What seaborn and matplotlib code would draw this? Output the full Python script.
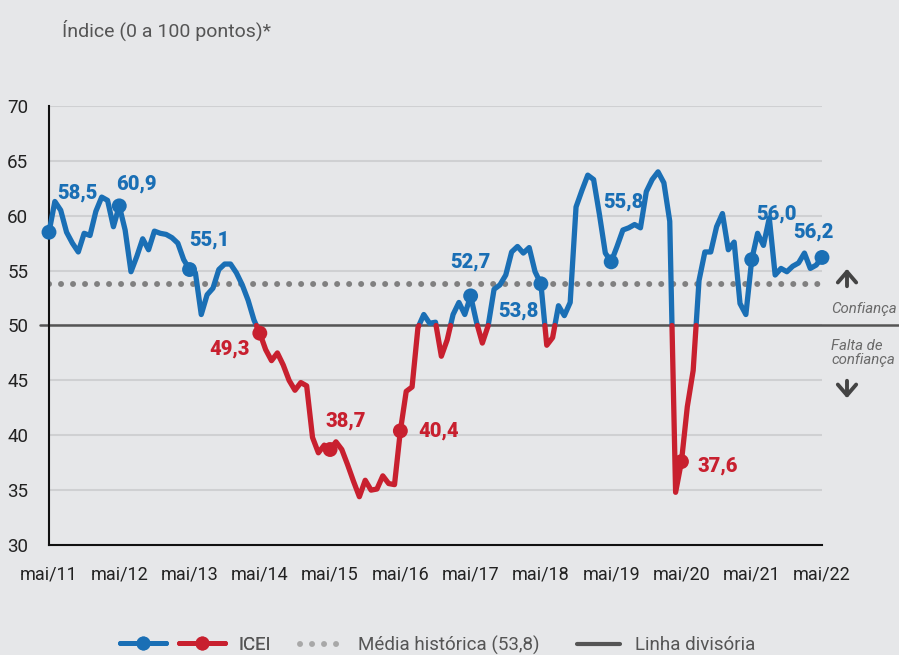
import seaborn as sns
import matplotlib.pyplot as plt
import pandas as pd
from matplotlib.lines import Line2D
from matplotlib.legend_handler import HandlerTuple

# ICEI mensal, mai/11 a mai/22
icei = [58.5, 61.3, 60.5, 58.5, 57.5, 56.7, 58.4, 58.2, 60.4, 61.7, 61.4, 59.0,
        60.9, 58.7, 54.9, 56.3, 57.9, 56.9, 58.6, 58.4, 58.3, 58.0, 57.5, 56.0,
        55.1, 54.8, 51.0, 52.8, 53.4, 55.1, 55.6, 55.6, 54.8, 53.7, 52.3, 50.5,
        49.3, 47.8, 46.8, 47.5, 46.4, 45.0, 44.1, 44.8, 44.5, 39.8, 38.4, 39.1,
        38.7, 39.4, 38.7, 37.3, 35.8, 34.4, 35.9, 35.0, 35.1, 36.3, 35.6, 35.5,
        40.4, 44.0, 44.4, 49.8, 51.0, 50.2, 50.3, 47.2, 48.7, 51.0, 52.1, 51.0,
        52.7, 50.3, 48.4, 50.0, 53.3, 53.7, 54.6, 56.7, 57.2, 56.6, 57.1, 54.9,
        53.8, 48.2, 48.9, 51.8, 50.9, 52.1, 60.8, 62.3, 63.7, 63.3, 60.1, 56.6,
        55.8, 57.2, 58.7, 58.9, 59.2, 58.9, 62.2, 63.3, 64.0, 63.0, 59.5, 34.8,
        37.6, 42.6, 45.9, 54.1, 56.7, 56.7, 59.0, 60.2, 56.9, 57.6, 52.0, 51.0,
        56.0, 58.4, 57.3, 59.8, 54.6, 55.2, 54.9, 55.4, 55.7, 56.6, 55.2, 55.5,
        56.2]
anos = ['mai/11', 'mai/12', 'mai/13', 'mai/14', 'mai/15', 'mai/16',
        'mai/17', 'mai/18', 'mai/19', 'mai/20', 'mai/21', 'mai/22']
media_historica = 53.8
linha_divisoria = 50

# posição dos rótulos em relação ao ponto (pixels)
rot_offsets = [(28, 39), (17, 22), (20, 29), (-30, -16), (16, 28), (38, 0),
               (0, 34), (-22, -27), (12, 60), (36, -4), (25, 46), (-9, 25)]

azul = '#1a6fb5'
vermelho = '#c8202f'
fundo = '#e6e7e9'

# separa a linha em trechos acima/abaixo de 50
rows = []
seg = 0
cur = 'acima' if icei[0] >= 50 else 'abaixo'
rows.append((0, icei[0], seg, cur))
for i in range(1, len(icei)):
    v0, v1 = icei[i - 1], icei[i]
    lado = 'acima' if v1 >= 50 else 'abaixo'
    if lado != cur:
        xc = i - 1 + (50 - v0) / (v1 - v0)
        rows.append((xc, 50, seg, cur))
        seg += 1
        cur = lado
        rows.append((xc, 50, seg, cur))
    rows.append((i, v1, seg, cur))
df = pd.DataFrame(rows, columns=['mes', 'valor', 'seg', 'lado'])

maio = pd.DataFrame({'mes': list(range(0, len(icei), 12)),
                     'valor': icei[::12]})
maio['lado'] = ['acima' if v >= 50 else 'abaixo' for v in maio['valor']]
pal = {'acima': azul, 'abaixo': vermelho}

sns.set_style('white')
plt.rcParams['font.family'] = ['Roboto', 'DejaVu Sans']

fig = plt.figure(figsize=(8.99, 6.55), dpi=100, facecolor=fundo)
ax = fig.add_axes([49 / 899, 1 - 545 / 655, 773 / 899, 439 / 655])
ax.set_facecolor(fundo)

for y in range(35, 75, 5):
    ax.axhline(y, color='#cfd0d2', lw=1.5, zorder=0)
ax.axhline(media_historica, color='#808080', lw=4.3,
           linestyle=(0, (0.01, 2.0)), dash_capstyle='round', zorder=1)
ax.axhline(linha_divisoria, xmin=-0.012, xmax=1.1, color='#555555', lw=1.8,
           clip_on=False, zorder=1)

sns.lineplot(data=df, x='mes', y='valor', hue='lado', units='seg',
             estimator=None, sort=False, palette=pal, lw=3.8, legend=False,
             ax=ax, zorder=3, clip_on=False)
sns.scatterplot(data=maio, x='mes', y='valor', hue='lado', palette=pal,
                s=115, edgecolor='none', legend=False, ax=ax, zorder=4,
                clip_on=False)

for (x, v, lado), (dx, dy) in zip(maio[['mes', 'valor', 'lado']].values, rot_offsets):
    ax.annotate(f'{v:.1f}'.replace('.', ','), (x, v), xytext=(dx, dy),
                textcoords='offset pixels', ha='center', va='center',
                fontsize=14.5, fontweight='heavy', color=pal[lado], zorder=5)

ax.set_xlim(0, len(icei) - 1)
ax.set_ylim(30, 70)
ax.set_xticks(range(0, len(icei), 12))
ax.set_xticklabels(anos)
ax.set_xticks(range(0, len(icei)), minor=True)
ax.set_yticks(range(30, 75, 5))
ax.set_xlabel('')
ax.set_ylabel('')
ax.tick_params(axis='x', which='major', direction='inout', length=9,
               width=1.5, labelsize=13, pad=10, color='#111', labelcolor='#222')
ax.tick_params(axis='x', which='minor', direction='in', length=4,
               width=1, color='#111')
ax.tick_params(axis='y', direction='out', length=6, width=1.5,
               labelsize=13.5, pad=9, color='#111', labelcolor='#222')
for s in ['top', 'right']:
    ax.spines[s].set_visible(False)
for s in ['left', 'bottom']:
    ax.spines[s].set_color('#111')
    ax.spines[s].set_linewidth(1.5)

fig.text(62 / 899, 1 - 30 / 655, 'Índice (0 a 100 pontos)*', fontsize=14,
         color='#555555', va='center')

fig.text(831 / 899, 1 - 309 / 655, 'Confiança', fontsize=10.8, style='italic',
         color='#6a6a6a', va='center')
fig.text(831 / 899, 1 - 353 / 655, 'Falta de\nconfiança', fontsize=10.8,
         style='italic', color='#6a6a6a', va='center', linespacing=1.05)
seta = dict(arrowstyle='->,head_length=0.35,head_width=0.3', lw=2.8,
            color='#444444', mutation_scale=22)
ax.annotate('', xy=(847 / 899, 1 - 266 / 655), xytext=(847 / 899, 1 - 289 / 655),
            xycoords='figure fraction', arrowprops=seta)
ax.annotate('', xy=(847 / 899, 1 - 401 / 655), xytext=(847 / 899, 1 - 378 / 655),
            xycoords='figure fraction', arrowprops=seta)

# legendas
h_azul = Line2D([], [], color=azul, lw=3.6, marker='o', ms=9)
h_verm = Line2D([], [], color=vermelho, lw=3.6, marker='o', ms=9)
leg1 = fig.legend([(h_azul, h_verm)], ['ICEI'],
                  handler_map={tuple: HandlerTuple(ndivide=None, pad=0.7)},
                  loc='center left', bbox_to_anchor=(120 / 899, 1 - 645 / 655),
                  frameon=False, borderpad=0, borderaxespad=0, handlelength=5.6,
                  handletextpad=0.7, fontsize=13.5, labelcolor='#555555')
h_media = Line2D([], [], color='#a8a8a8', lw=4.3, linestyle=(0, (0.01, 2.0)),
                 dash_capstyle='round')
h_div = Line2D([], [], color='#555555', lw=3)
fig.legend([h_media, h_div], ['Média histórica (53,8)', 'Linha divisória'],
           loc='center left', bbox_to_anchor=(300 / 899, 1 - 645 / 655),
           frameon=False, borderpad=0, borderaxespad=0, ncol=2,
           handlelength=2.3, handletextpad=0.8, columnspacing=2.0,
           fontsize=13.5, labelcolor='#555555')
fig.add_artist(leg1)

fig.savefig('out.png', dpi=100, facecolor=fundo)
